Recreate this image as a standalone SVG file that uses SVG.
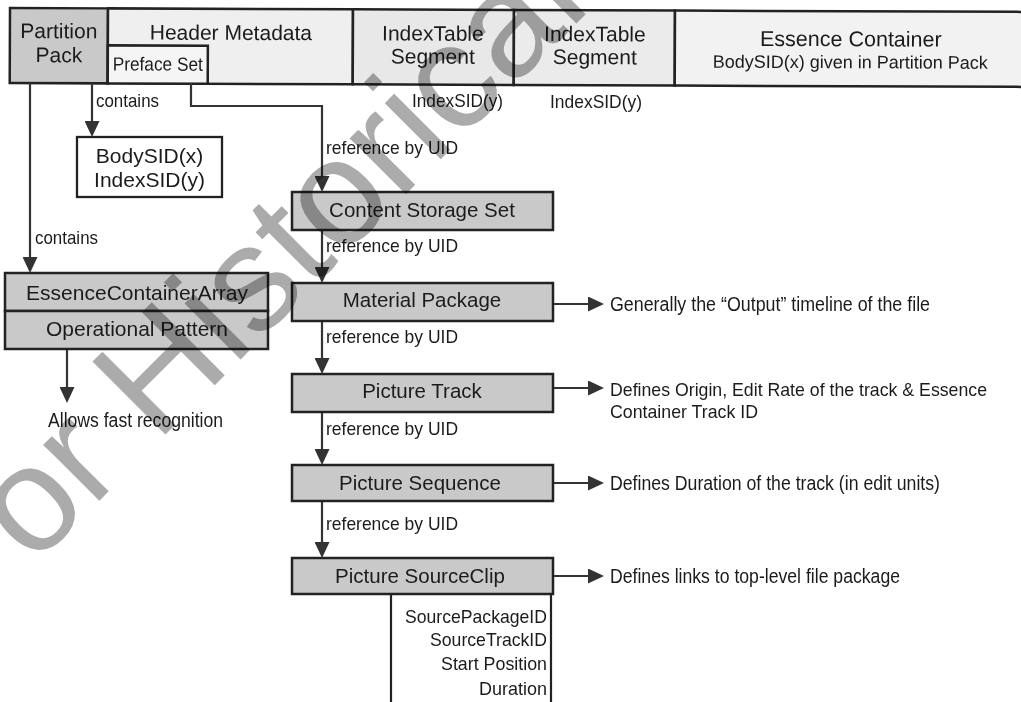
<svg xmlns="http://www.w3.org/2000/svg" width="1021" height="702" viewBox="0 0 1021 702">
  <style>
    .t { font-family: "Liberation Sans", Arial, sans-serif; fill: #1b1b1b; }
    .box { fill: #c9c9c9; stroke: #222; stroke-width: 2.5; }
    .plain { fill: #fff; stroke: #222; stroke-width: 2.3; }
    .cell { stroke: #222; stroke-width: 2.5; }
    .conn { fill: none; stroke: #333; stroke-width: 2.2; }
    .down { marker-end: url(#arrow); }
    .wm { font-family: "Liberation Sans", Arial, sans-serif; fill: #ababab; mix-blend-mode: multiply; }
  </style>
  <defs>
    <marker id="arrow" viewBox="0 0 16 15" refX="8" refY="7.5" markerWidth="16" markerHeight="15" markerUnits="userSpaceOnUse" orient="auto">
      <path d="M0,0 L16,7.5 L0,15 Z" fill="#333"/>
    </marker>
  </defs>

  <rect width="1021" height="702" fill="#fff"/>

  <!-- file layout strip -->
  <g id="file-layout" transform="rotate(0.22 10 8)">
    <g id="partition-pack">
      <rect class="cell" x="10" y="8" width="98" height="75" fill="#c9c9c9"/>
      <text class="t" x="59" y="38" font-size="21" text-anchor="middle">Partition</text>
      <text class="t" x="59" y="62" font-size="21" text-anchor="middle">Pack</text>
    </g>
    <g id="header-metadata">
      <rect class="cell" x="108" y="8" width="245" height="75" fill="#efefef"/>
      <text class="t" x="231" y="39" font-size="21" text-anchor="middle">Header Metadata</text>
    </g>
    <g id="preface-set">
      <rect class="cell" x="108" y="45" width="100" height="38" fill="#f5f5f5"/>
      <text class="t" x="113" y="70" font-size="19" textLength="90" lengthAdjust="spacingAndGlyphs">Preface Set</text>
    </g>
    <g id="index-table-1">
      <rect class="cell" x="353" y="8" width="161" height="75" fill="#e8e8e8"/>
      <text class="t" x="433" y="39" font-size="21" text-anchor="middle">IndexTable</text>
      <text class="t" x="433" y="62" font-size="21" text-anchor="middle">Segment</text>
    </g>
    <g id="index-table-2">
      <rect class="cell" x="514" y="8" width="161" height="75" fill="#ebebeb"/>
      <text class="t" x="595" y="39" font-size="21" text-anchor="middle">IndexTable</text>
      <text class="t" x="595" y="62" font-size="21" text-anchor="middle">Segment</text>
    </g>
    <g id="essence-container">
      <rect class="cell" x="675" y="8" width="360" height="75" fill="#f2f2f2"/>
      <text class="t" x="851" y="43" font-size="21.5" text-anchor="middle">Essence Container</text>
      <text class="t" x="713" y="65" font-size="18" textLength="275" lengthAdjust="spacingAndGlyphs">BodySID(x) given in Partition Pack</text>
    </g>
  </g>

  <!-- connectors -->
  <g id="connectors">
    <path class="conn down" d="M30 83 V265"/>
    <path class="conn down" d="M92 83 V129"/>
    <path class="conn down" d="M191 83 V106 H322 V184"/>
    <path class="conn down" d="M322 230 V275"/>
    <path class="conn down" d="M322 321 V366"/>
    <path class="conn down" d="M322 412 V457"/>
    <path class="conn down" d="M322 501 V550"/>
    <path class="conn down" d="M67 349 V395"/>
    <path class="conn down" d="M553 304 H596"/>
    <path class="conn down" d="M553 388 H596"/>
    <path class="conn down" d="M553 483 H596"/>
    <path class="conn down" d="M553 576 H596"/>

    <text class="t" x="35" y="244" font-size="19" textLength="63" lengthAdjust="spacingAndGlyphs">contains</text>
    <text class="t" x="96" y="107" font-size="19" textLength="63" lengthAdjust="spacingAndGlyphs">contains</text>
    <text class="t" x="326" y="154" font-size="19" textLength="132" lengthAdjust="spacingAndGlyphs">reference by UID</text>
    <text class="t" x="326" y="252" font-size="19" textLength="132" lengthAdjust="spacingAndGlyphs">reference by UID</text>
    <text class="t" x="326" y="343" font-size="19" textLength="132" lengthAdjust="spacingAndGlyphs">reference by UID</text>
    <text class="t" x="326" y="435" font-size="19" textLength="132" lengthAdjust="spacingAndGlyphs">reference by UID</text>
    <text class="t" x="326" y="530" font-size="19" textLength="132" lengthAdjust="spacingAndGlyphs">reference by UID</text>
    <text class="t" x="412" y="107" font-size="19" textLength="91" lengthAdjust="spacingAndGlyphs">IndexSID(y)</text>
    <text class="t" x="550" y="108" font-size="19" textLength="92" lengthAdjust="spacingAndGlyphs">IndexSID(y)</text>
  </g>

  <g id="sid-values">
    <rect class="plain" x="77" y="137" width="145" height="60"/>
    <text class="t" x="149.5" y="163" font-size="21" text-anchor="middle">BodySID(x)</text>
    <text class="t" x="149.5" y="187" font-size="21" text-anchor="middle">IndexSID(y)</text>
  </g>

  <g id="essence-container-array">
    <rect class="box" x="5" y="273" width="263" height="38"/>
    <text class="t" x="137" y="300" font-size="21" text-anchor="middle">EssenceContainerArray</text>
  </g>
  <g id="operational-pattern">
    <rect class="box" x="5" y="311" width="263" height="38"/>
    <text class="t" x="137" y="336" font-size="21" text-anchor="middle">Operational Pattern</text>
  </g>
  <g id="fast-recognition">
    <text class="t" x="48" y="427" font-size="20" textLength="175" lengthAdjust="spacingAndGlyphs">Allows fast recognition</text>
  </g>

  <g id="content-storage-set">
    <rect class="box" x="292" y="192" width="261" height="38"/>
    <text class="t" x="422" y="217" font-size="20.5" text-anchor="middle">Content Storage Set</text>
  </g>
  <g id="material-package">
    <rect class="box" x="292" y="283" width="261" height="38"/>
    <text class="t" x="422" y="307" font-size="20.5" text-anchor="middle">Material Package</text>
    <text class="t" x="610" y="311" font-size="20" textLength="320" lengthAdjust="spacingAndGlyphs">Generally the “Output” timeline of the file</text>
  </g>
  <g id="picture-track">
    <rect class="box" x="292" y="374" width="261" height="38"/>
    <text class="t" x="422" y="398" font-size="20.5" text-anchor="middle">Picture Track</text>
    <text class="t" x="610" y="396" font-size="18.5" textLength="377" lengthAdjust="spacingAndGlyphs">Defines Origin, Edit Rate of the track &amp; Essence</text>
    <text class="t" x="610" y="418" font-size="19" textLength="148" lengthAdjust="spacingAndGlyphs">Container Track ID</text>
  </g>
  <g id="picture-sequence">
    <rect class="box" x="292" y="465" width="261" height="36"/>
    <text class="t" x="420" y="490" font-size="20.5" text-anchor="middle">Picture Sequence</text>
    <text class="t" x="610" y="490" font-size="19.5" textLength="330" lengthAdjust="spacingAndGlyphs">Defines Duration of the track (in edit units)</text>
  </g>
  <g id="picture-sourceclip">
    <rect class="box" x="292" y="558" width="261" height="36"/>
    <text class="t" x="420" y="583" font-size="20.5" text-anchor="middle">Picture SourceClip</text>
    <text class="t" x="610" y="583" font-size="20" textLength="290" lengthAdjust="spacingAndGlyphs">Defines links to top-level file package</text>
    <path d="M391 594 V704 M551 594 V704" fill="none" stroke="#222" stroke-width="2.2"/>
    <text class="t" x="547" y="623" font-size="18.5" text-anchor="end" textLength="142" lengthAdjust="spacingAndGlyphs">SourcePackageID</text>
    <text class="t" x="547" y="646" font-size="18.5" text-anchor="end" textLength="117" lengthAdjust="spacingAndGlyphs">SourceTrackID</text>
    <text class="t" x="547" y="670" font-size="18.5" text-anchor="end" textLength="106" lengthAdjust="spacingAndGlyphs">Start Position</text>
    <text class="t" x="547" y="695" font-size="18.5" text-anchor="end" textLength="68" lengthAdjust="spacingAndGlyphs">Duration</text>
  </g>

  <!-- diagonal overprint -->
  <text class="wm" x="0" y="0" font-size="150" transform="translate(33 567) rotate(-45)">or Historical</text>
</svg>
